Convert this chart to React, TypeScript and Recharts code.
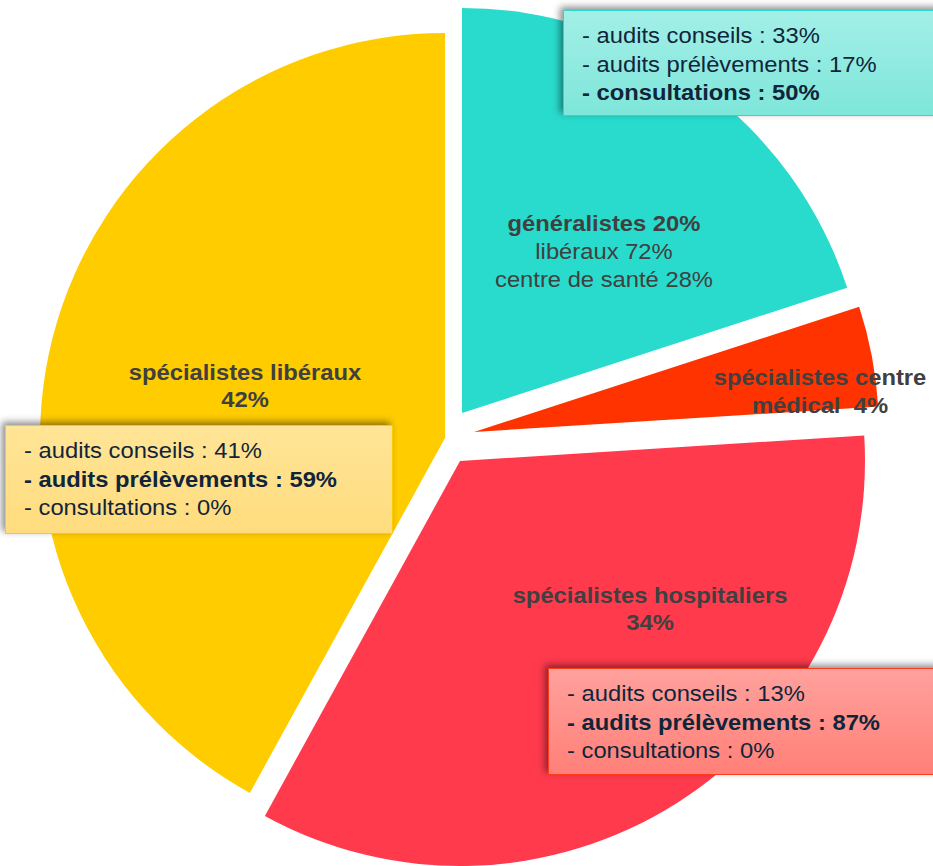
import { PieChart, Pie, Cell } from "recharts";

// slice order = clockwise from 12 o'clock
const categories = ["généralistes", "spécialistes centre médical", "spécialistes hospitaliers", "spécialistes libéraux"];
const shares = [20, 4, 34, 42];
const sliceColors = ["#29DBCC", "#FF3300", "#FF3A4D", "#FFCC00"];

const generalistesDetail = ["libéraux 72%", "centre de santé 28%"];

const auditsGeneralistes = [33, 17, 50];
const auditsLiberaux = [41, 59, 0];
const auditsHospitaliers = [13, 87, 0];
const auditLabels = ["audits conseils", "audits prélèvements", "consultations"];

// exploded slice apex for each slice (layout)
const apex = [
    { x: 462, y: 413 },
    { x: 474, y: 432 },
    { x: 460, y: 461 },
    { x: 445, y: 438 },
];

const W = 933;
const H = 866;
const R = 405;

const pieData = categories.map((name, i) => ({ name, value: shares[i] }));

const labelStyle: React.CSSProperties = {
    position: "absolute",
    fontFamily: "'Liberation Sans', Arial, sans-serif",
    fontSize: 22,
    color: "#404040",
    textAlign: "center",
    lineHeight: "28px",
    whiteSpace: "nowrap",
    transform: "translateX(-50%) scaleX(1.08)",
};

function AuditBox({
    left,
    top,
    width,
    height,
    values,
    boldIndex,
    background,
    border,
}: {
    left: number;
    top: number;
    width: number;
    height: number;
    values: number[];
    boldIndex: number;
    background: string;
    border: string;
}) {
    return (
        <div
            style={{
                position: "absolute",
                left,
                top,
                width,
                height,
                boxSizing: "border-box",
                background,
                border: `1.5px solid ${border}`,
                boxShadow: "-3px -3px 7px rgba(0,0,0,0.45)",
                padding: "11px 0 0 18px",
                fontFamily: "'Liberation Sans', Arial, sans-serif",
                fontSize: 22,
                lineHeight: "28.5px",
                color: "#10253A",
            }}
        >
            <div style={{ transform: "scaleX(1.08)", transformOrigin: "left", whiteSpace: "nowrap" }}>
                {auditLabels.map((lab, i) => (
                    <div key={lab} style={{ fontWeight: i === boldIndex ? "bold" : "normal" }}>
                        - {lab} : {values[i]}%
                    </div>
                ))}
            </div>
        </div>
    );
}

export default function App() {
    return (
        <div style={{ position: "absolute", left: 0, top: 0, width: W, height: H, overflow: "hidden", background: "#fff" }}>
            <PieChart width={W} height={H} margin={{ top: 0, right: 0, bottom: 0, left: 0 }}>
                {apex.map((p, idx) => (
                    <Pie
                        key={categories[idx]}
                        data={pieData}
                        dataKey="value"
                        nameKey="name"
                        cx={p.x}
                        cy={p.y}
                        outerRadius={R}
                        innerRadius={0}
                        startAngle={90}
                        endAngle={-270}
                        stroke="none"
                        isAnimationActive={false}
                    >
                        {pieData.map((d, i) => (
                            <Cell key={d.name} fill={i === idx ? sliceColors[i] : "none"} />
                        ))}
                    </Pie>
                ))}
            </PieChart>

            {/* slice labels */}
            <div style={{ ...labelStyle, left: 604, top: 210 }}>
                <div style={{ fontWeight: "bold" }}>
                    {categories[0]} {shares[0]}%
                </div>
                {generalistesDetail.map(t => (
                    <div key={t}>{t}</div>
                ))}
            </div>
            <div style={{ ...labelStyle, left: 820, top: 364, fontWeight: "bold" }}>
                <div>spécialistes centre</div>
                <div>médical&nbsp;&nbsp;{shares[1]}%</div>
            </div>
            <div style={{ ...labelStyle, left: 650, top: 582, fontWeight: "bold", lineHeight: "27px" }}>
                <div>{categories[2]}</div>
                <div>{shares[2]}%</div>
            </div>
            <div style={{ ...labelStyle, left: 245, top: 359, fontWeight: "bold", lineHeight: "27px" }}>
                <div>{categories[3]}</div>
                <div>{shares[3]}%</div>
            </div>

            {/* audit breakdown boxes */}
            <AuditBox
                left={563}
                top={10}
                width={380}
                height={106}
                values={auditsGeneralistes}
                boldIndex={2}
                background="linear-gradient(#A3EFE7, #7EE6DA)"
                border="#2AD9CB"
            />
            <AuditBox
                left={5}
                top={425}
                width={388}
                height={109}
                values={auditsLiberaux}
                boldIndex={1}
                background="linear-gradient(#FFE597, #FFDC7E)"
                border="#FFCC00"
            />
            <AuditBox
                left={548}
                top={668}
                width={395}
                height={107}
                values={auditsHospitaliers}
                boldIndex={1}
                background="linear-gradient(#FFA19D, #FF8078)"
                border="#FF3B1E"
            />
        </div>
    );
}
